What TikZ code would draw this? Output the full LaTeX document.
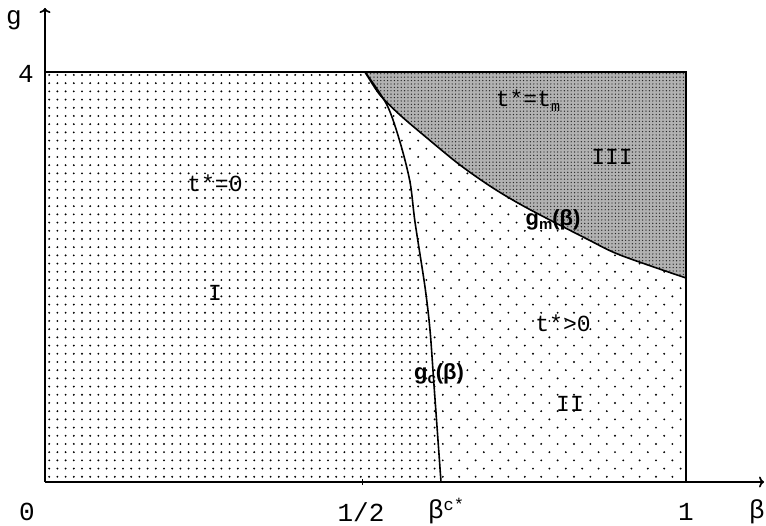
\documentclass[tikz,border=0pt]{standalone}
\usetikzlibrary{arrows.meta,patterns}
\usepackage{fontspec}
\newfontfamily\mono{Liberation Mono}
\newfontfamily\bsans{Liberation Sans}
\pgfdeclarepatternformonly{gridI}{\pgfqpoint{-2pt}{-2pt}}{\pgfqpoint{2pt}{2pt}}{\pgfqpoint{8.2pt}{8.2pt}}{\pgfpathcircle{\pgfqpoint{0pt}{0pt}}{1.05pt}\pgfusepath{fill}}
\pgfdeclarepatternformonly{gridII}{\pgfqpoint{-2pt}{-2pt}}{\pgfqpoint{10pt}{10pt}}{\pgfqpoint{16.4pt}{16.4pt}}{\pgfpathcircle{\pgfqpoint{0pt}{0pt}}{1.05pt}\pgfpathcircle{\pgfqpoint{8.2pt}{8.2pt}}{1.05pt}\pgfusepath{fill}}
\pgfdeclarepatternformonly{gridIII}{\pgfqpoint{-1pt}{-1pt}}{\pgfqpoint{1pt}{1pt}}{\pgfqpoint{3.4pt}{3.4pt}}{\pgfpathcircle{\pgfqpoint{0pt}{0pt}}{0.7pt}\pgfusepath{fill}}
\begin{document}
\begin{tikzpicture}[x=1pt,y=-1pt,
  axlab/.style={font=\mono\fontsize{26}{26}\selectfont, inner sep=0pt},
  reglab/.style={font=\mono\fontsize{23}{23}\selectfont, inner sep=0pt},
  curvelab/.style={font=\bsans\bfseries\fontsize{22}{22}\selectfont, inner sep=0pt},
  frame/.style={line width=1.7pt},
  curve/.style={line width=1.6pt}]
\useasboundingbox (0,0) rectangle (766,526);
% region III
\fill[black!30] (365,72) -- plot[smooth] coordinates {(365,72) (380,95) (400,115) (427,138) (460,165) (493,188) (527,208) (587,239) (620,255) (686,278)} -- (686,72) -- cycle;
\fill[pattern=gridIII, pattern color=black!85] (365,72) -- plot[smooth] coordinates {(365,72) (380,95) (400,115) (427,138) (460,165) (493,188) (527,208) (587,239) (620,255) (686,278)} -- (686,72) -- cycle;
% region I
\fill[pattern=gridI] (45,72) -- plot[smooth] coordinates {(365,72) (387,105) (400,142) (410,182) (415,222) (425,287) (430,330) (434,385) (441,482)} -- (45,482) -- cycle;
% region II
\fill[pattern=gridII] (365,72) -- plot[smooth] coordinates {(365,72) (387,105) (400,142) (410,182) (415,222) (425,287) (430,330) (434,385) (441,482)} -- (686,482) -- (686,278) -- plot[smooth] coordinates {(686,278) (620,255) (587,239) (527,208) (493,188) (460,165) (427,138) (400,115) (380,95) (365,72)} -- cycle;
% axes
\coordinate (O) at (45,482);
\coordinate (ytop) at (45,8);
\coordinate (xend) at (764,482);
\coordinate (TL) at (45,72);
\coordinate (TR) at (686,72);
\coordinate (BR) at (686,482);
\draw[frame,-{To[length=5pt,width=11pt]}] (O) -- (ytop);
\draw[frame,-{To[length=5pt,width=11pt]}] (O) -- (xend);
\draw[frame] (TL) -- (TR) -- (BR);
\draw[line width=1pt] (362,479) -- (362,485);
% curves
\draw[curve] plot[smooth] coordinates {(365,72) (380,95) (400,115) (427,138) (460,165) (493,188) (527,208) (587,239) (620,255) (686,278)};
\draw[curve] plot[smooth] coordinates {(365,72) (387,105) (400,142) (410,182) (415,222) (425,287) (430,330) (434,385) (441,482)};
% labels
\node[axlab] (g) at (14,20) {g};
\node[axlab] (four) at (26,74) {4};
\node[axlab] (zero) at (27,512) {0};
\node[axlab] (half) at (361,512) {1/2};
\node[axlab] (bc) at (446,511) {β\raisebox{8pt}{\fontsize{17}{17}\selectfont c*}};
\node[axlab] (one) at (686,512) {1};
\node[axlab] (beta) at (757,512) {β};
\node[reglab] (t0) at (215,183) {t*=0};
\node[reglab] (rI) at (215,293) {I};
\node[reglab] (tm) at (528,101) {t*=t\raisebox{-5pt}{\fontsize{15}{15}\selectfont m}};
\node[reglab] (rIII) at (612,157) {III};
\node[reglab] (tp) at (563,323) {t*>0};
\node[reglab] (rII) at (570,404) {II};
\node[curvelab] (gm) at (553,220) {g\raisebox{-4pt}{\fontsize{15}{15}\selectfont m}(β)};
\node[curvelab] (gcl) at (439,374) {g\raisebox{-4pt}{\fontsize{15}{15}\selectfont c}(β)};
\end{tikzpicture}
\end{document}
